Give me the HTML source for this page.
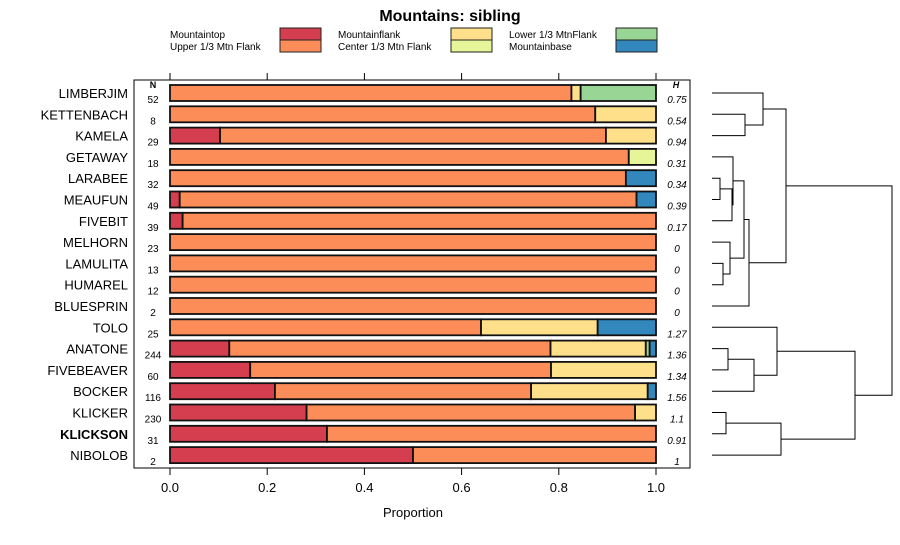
<!DOCTYPE html>
<html><head><meta charset="utf-8"><style>
body{margin:0;background:#fff;font-family:"Liberation Sans",sans-serif}
</style></head><body>
<svg id="c" width="900" height="540" xmlns="http://www.w3.org/2000/svg" font-family="Liberation Sans, sans-serif">
<text x="450" y="21" text-anchor="middle" font-size="16" font-weight="bold">Mountains: sibling</text>
<g id="legend"></g>
<rect x="134" y="80" width="556" height="388" fill="none" stroke="#000" stroke-width="1"/>
<g id="bars"></g><g id="axes"></g><g id="dendro"></g>
<text x="413" y="517" text-anchor="middle" font-size="13">Proportion</text>
</svg>
<script>
const categories=["Mountaintop","Upper 1/3 Mtn Flank","Mountainflank","Center 1/3 Mtn Flank","Lower 1/3 MtnFlank","Mountainbase"];
const colors=["#D53E4F","#FC8D59","#FEE08B","#E6F598","#99D594","#3288BD"];
const sites=["LIMBERJIM","KETTENBACH","KAMELA","GETAWAY","LARABEE","MEAUFUN","FIVEBIT","MELHORN","LAMULITA","HUMAREL","BLUESPRIN","TOLO","ANATONE","FIVEBEAVER","BOCKER","KLICKER","KLICKSON","NIBOLOB"];
const nValues=[52,8,29,18,32,49,39,23,13,12,2,25,244,60,116,230,31,2];
const hValues=["0.75","0.54","0.94","0.31","0.34","0.39","0.17","0","0","0","0","1.27","1.36","1.34","1.56","1.1","0.91","1"];
const mountaintop=[0,0,0.103,0,0,0.02,0.026,0,0,0,0,0,0.122,0.165,0.216,0.281,0.323,0.5];
const upperFlank=[0.826,0.875,0.794,0.944,0.938,0.94,0.974,1,1,1,1,0.64,0.661,0.619,0.527,0.676,0.677,0.5];
const mtnFlank=[0.019,0.125,0.103,0,0,0,0,0,0,0,0,0.24,0.196,0.216,0.24,0.043,0,0];
const centerFlank=[0,0,0,0.056,0,0,0,0,0,0,0,0,0,0,0,0,0,0];
const lowerFlank=[0.155,0,0,0,0,0,0,0,0,0,0,0,0.008,0,0,0,0,0];
const mtnBase=[0,0,0,0,0.062,0.04,0,0,0,0,0,0.12,0.013,0,0.017,0,0,0];
const xTicks=[0,0.2,0.4,0.6,0.8,1.0];
const xTickLabels=["0.0","0.2","0.4","0.6","0.8","1.0"];
const merges=[[-2,-3,0.33],[-1,1,0.51],[-5,-6,0.08],[3,-7,0.2],[-4,4,0.21],[-9,-10,0.11],[-8,6,0.18],[5,7,0.32],[8,-11,0.37],[2,9,0.74],[-13,-14,0.16],[11,-15,0.42],[-12,12,0.65],[-16,-17,0.14],[-18,14,0.69],[13,15,1.43],[10,16,1.8]];
const svg=document.getElementById('c'),NS="http://www.w3.org/2000/svg";
function mk(t,a,p){const e=document.createElementNS(NS,t);for(const k in a)e.setAttribute(k,a[k]);(p||svg).appendChild(e);return e;}
const X0=170,X1=656;const xs=v=>X0+(X1-X0)*v;
const ys=i=>93+i*21.3;
const bars=document.getElementById('bars'),axes=document.getElementById('axes');
const lx=[170,338,509],sx=[280,451,616];
categories.forEach((c,i)=>{const col=Math.floor(i/2),r=i%2;
const t=mk('text',{x:lx[col],y:38+r*12,'font-size':10},document.getElementById('legend'));t.textContent=c;


const s=mk('rect',{x:sx[col],y:28+r*12,width:41,height:12,fill:colors[i],stroke:'#222','stroke-width':1},document.getElementById('legend'));

});
const series=[mountaintop,upperFlank,mtnFlank,centerFlank,lowerFlank,mtnBase];
sites.forEach((s,i)=>{const y=ys(i);let acc=0;
series.forEach((sr,k)=>{const v=sr[i];if(v>0){const r=mk('rect',{x:xs(acc),y:y-8,width:xs(acc+v)-xs(acc),height:16,fill:colors[k],stroke:'#111','stroke-width':1.8},bars);

}acc+=v;});
const l=mk('text',{x:128,y:y+5,'text-anchor':'end','font-size':13,'font-weight':s==='KLICKSON'?'bold':'normal'},axes);l.textContent=s;


const n=mk('text',{x:153,y:y+10,'text-anchor':'middle','font-size':10},axes);n.textContent=nValues[i];


const h=mk('text',{x:677,y:y+10,'text-anchor':'middle','font-size':10,'font-style':'italic'},axes);h.textContent=hValues[i];

});
let t=mk('text',{x:153,y:ys(0)-5,'text-anchor':'middle','font-size':9,'font-weight':'bold'},axes);t.textContent='N';


t=mk('text',{x:676,y:ys(0)-5,'text-anchor':'middle','font-size':9,'font-weight':'bold','font-style':'italic'},axes);t.textContent='H';


xTicks.forEach((v,i)=>{mk('line',{x1:xs(v),x2:xs(v),y1:73,y2:80,stroke:'#000'},axes);mk('line',{x1:xs(v),x2:xs(v),y1:468,y2:475,stroke:'#000'},axes);
const l=mk('text',{x:xs(v),y:492,'text-anchor':'middle','font-size':13},axes);l.textContent=xTickLabels[i];

});
const D0=712,DS=(892-712)/1.8;const dx=h=>D0+DS*h;const dg=document.getElementById('dendro');
const nodes=[];
function pos(id){return id<0?{x:D0,y:ys(-id-1)}:nodes[id-1];}
merges.forEach(m=>{const a=pos(m[0]),b=pos(m[1]),x=dx(m[2]);
mk('path',{d:`M${a.x},${a.y}H${x}V${b.y}H${b.x}`,fill:'none',stroke:'#000','stroke-width':1},dg);
nodes.push({x:x,y:(a.y+b.y)/2});});
</script>
</body></html>
